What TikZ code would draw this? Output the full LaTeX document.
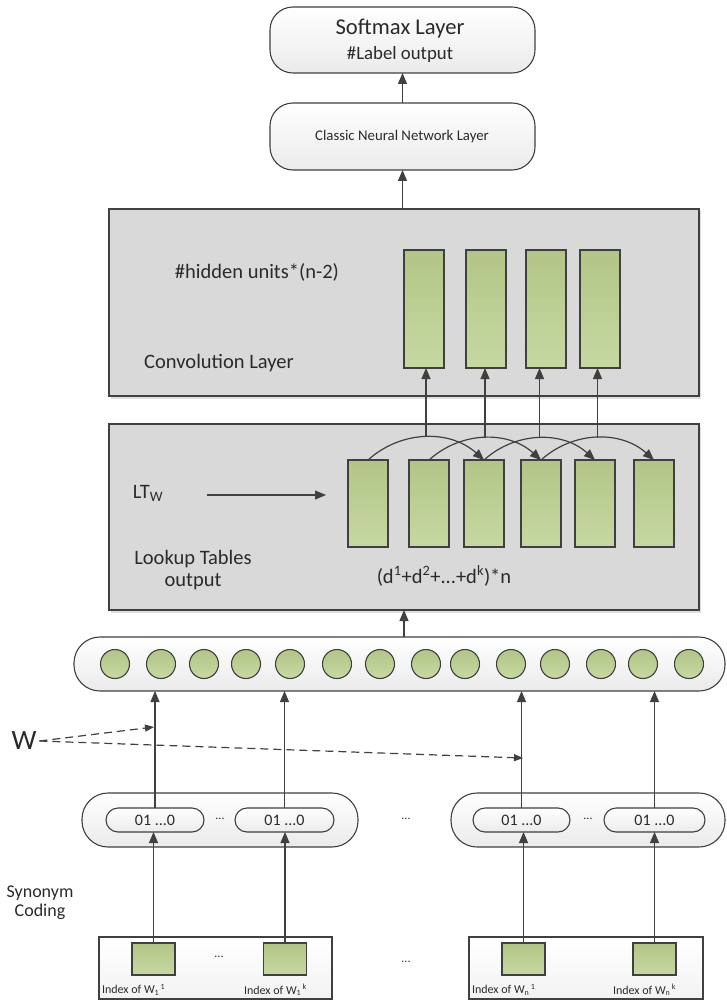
\documentclass[tikz,border=0pt]{standalone}
\usepackage{fontspec}
\setmainfont{Carlito}
\usetikzlibrary{arrows.meta,shadows,calc}
\definecolor{edge}{HTML}{404040}
\definecolor{panel}{HTML}{D9D9D9}
\definecolor{leafT}{HTML}{B2C586}
\definecolor{leafB}{HTML}{C7D9A2}
\definecolor{ink}{HTML}{2A2A2A}
\newcommand{\fs}[1]{\fontsize{#1}{#1}\selectfont}
\newcommand{\subsupx}[2]{\textsubscript{#2}\textsuperscript{\,#1}}
\begin{document}
\begin{tikzpicture}[x=1pt,y=-1pt,
  every node/.style={inner sep=0pt,outer sep=0pt,text=ink},
  capsule/.style={draw=edge,line width=1.1pt,top color=white,bottom color=gray!16},
  layerbox/.style={draw=edge,line width=1.3pt,fill=panel,
    drop shadow={shadow xshift=2pt,shadow yshift=-2.5pt,opacity=0.25}},
  idxbox/.style={draw=edge,line width=1.1pt,top color=white,bottom color=gray!10},
  cell/.style={draw=edge,line width=1.1pt,top color=leafT,bottom color=leafB},
  unit/.style={circle,draw=edge,line width=1.1pt,top color=leafT,bottom color=leafB,minimum size=29pt},
  arr/.style={draw=edge,line width=1.2pt,-{Triangle[length=11pt,width=9pt]}},
  darr/.style={draw=edge,line width=1.2pt,dash pattern=on 8pt off 5pt,-{Triangle[length=9pt,width=7pt]}},
  lbl/.style={font=\fs{20.5}}
]
\useasboundingbox (0,0) rectangle (726,1000);

% ---- output layers ----
\node[capsule,rounded corners=23pt,minimum width=265pt,minimum height=66pt] (softmax) at (402.5,40) {};
\node[font=\fs{22.6}] (smA) at (400,29) {Softmax Layer};
\node[font=\fs{18.8}] (smB) at (400,54) {\#Label output};
\node[capsule,rounded corners=23pt,minimum width=265pt,minimum height=67pt] (classic) at (402.5,136.5) {};
\node[font=\fs{14.8}] (clA) at (402,137) {Classic Neural Network Layer};

% ---- convolution layer ----
\node[layerbox,minimum width=590pt,minimum height=187pt] (conv) at (404,302.5) {};
\node[lbl] (convA) at (257,272) {\#hidden units*(n-2)};
\node[lbl] (convB) at (219,363) {Convolution Layer};
\foreach \n/\x in {1/424,2/486,3/546,4/600}
  \node[cell,minimum width=40pt,minimum height=118pt] (c\n) at (\x,309) {};

% ---- lookup tables ----
\node[layerbox,minimum width=590pt,minimum height=186pt] (look) at (404,517) {};
\node[lbl] (ltw) at (148,493) {LT\textsubscript{W}};
\node[lbl,align=center] (ltout) at (193,570) {Lookup Tables\\[2pt]output};
\node[lbl] (dsum) at (444,576) {(d\textsuperscript{1}+d\textsuperscript{2}+...+d\textsuperscript{k})*n};
\foreach \n/\x in {1/368,2/429,3/484,4/541,5/595,6/654}
  \node[cell,minimum width=40pt,minimum height=87pt] (l\n) at (\x,503.5) {};
\coordinate (ltS) at (207,495);
\coordinate (ltE) at (326,495);
\draw[arr] (ltS) -- (ltE);

% windows of three columns feeding each convolution unit
\foreach \a/\b/\c in {1/3/1,2/4/2,3/5/3,4/6/4}{
  \draw[arr] (l\a.north) to[bend left=42] coordinate[pos=0.5] (m\c) (l\b.north);
  \draw[arr] (m\c) -- (m\c |- c\c.south);
}

% ---- embedding vector ----
\node[capsule,rounded corners=26pt,minimum width=651pt,minimum height=54pt] (emb) at (399.5,664) {};
\foreach \n/\x in {1/115,2/161,3/204,4/246,5/290,6/337,7/380,8/426,9/465,10/511,11/555,12/601,13/643,14/689}
  \node[unit] (u\n) at (\x,664) {};

% ---- synonym one-hot codes ----
\node[capsule,rounded corners=26pt,minimum width=276pt,minimum height=54pt] (hotA) at (220,820) {};
\node[capsule,rounded corners=26pt,minimum width=274pt,minimum height=54pt] (hotB) at (588,820) {};
\foreach \n/\x/\w in {1/155/98,2/284.5/99,3/521.5/97,4/654.5/101}{
  \node[capsule,rounded corners=12pt,minimum width=\w pt,minimum height=24pt] (p\n) at (\x,820) {};
  \node[font=\fs{16}] (pt\n) at (\x,820) {01 ...0};
}
\node[font=\fs{12}] (dotA) at (220,819) {...};
\node[font=\fs{12}] (dotB) at (588,819) {...};
\node[font=\fs{12}] (dotC) at (406,819) {...};

% ---- word indices ----
\node[idxbox,minimum width=233pt,minimum height=62pt] (idxA) at (215.5,968) {};
\node[idxbox,minimum width=234pt,minimum height=62pt] (idxB) at (586,968) {};
\foreach \n/\x in {1/153.5,2/285,3/523.5,4/654.5}
  \node[cell,minimum width=43pt,minimum height=32pt] (s\n) at (\x,959) {};
\node[font=\fs{12},anchor=west] (ix1) at (102,990) {Index of W\subsupx{1}{1}};
\node[font=\fs{12},anchor=west] (ix2) at (244,990) {Index of W\subsupx{k}{1}};
\node[font=\fs{12},anchor=west] (ix3) at (472,990) {Index of W\subsupx{1}{n}};
\node[font=\fs{12},anchor=west] (ix4) at (613,990) {Index of W\subsupx{k}{n}};
\node[font=\fs{12}] (dotD) at (219,957) {...};
\node[font=\fs{12}] (dotE) at (406,962) {...};

\node[font=\fs{18},align=center] (syn) at (40,903) {Synonym\\[1pt]Coding};
\node[font=\fs{28}] (w) at (24,741) {W};

% ---- connectors ----
\draw[arr] (classic.north) -- (softmax.south);
\draw[arr] (classic.south |- conv.north) -- (classic.south);
\draw[arr] (look.south |- emb.north) -- (look.south);
\foreach \n in {1,2,3,4}{
  \draw[arr] (p\n.north) -- (p\n.north |- emb.south);
  \draw[arr] (s\n.north) -- (s\n.north |- p\n.south);
}
\coordinate (wA) at (154,727);
\coordinate (wB) at (523,758);
\draw[darr] ([xshift=3pt]w.east) -- (wA);
\draw[darr] ([xshift=3pt]w.east) -- (wB);
\end{tikzpicture}
\end{document}
